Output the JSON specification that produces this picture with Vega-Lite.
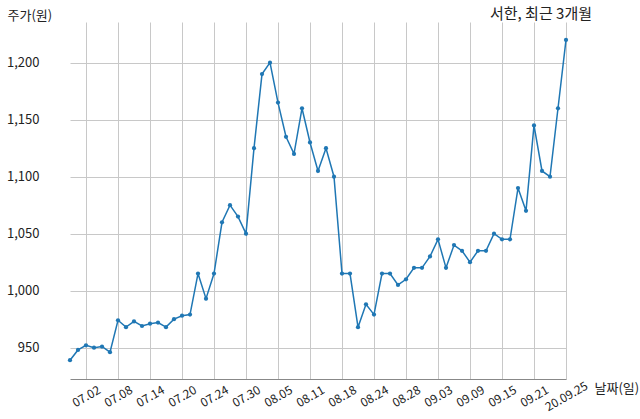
{
  "$schema": "https://vega.github.io/schema/vega-lite/v6.json",
  "description": "서한 주가, 최근 3개월",
  "autosize": {"type": "none"},
  "padding": {"left": 43, "top": 22, "right": 48, "bottom": 40},
  "width": 549,
  "height": 357,
  "background": "white",
  "title": {
    "text": "서한, 최근 3개월",
    "anchor": "end",
    "frame": "group",
    "fontSize": 15,
    "fontWeight": "normal",
    "font": "Noto Sans CJK KR",
    "color": "#222222",
    "offset": 3,
    "dy": 16
  },
  "data": {
    "values": [
      {"date": "2020-06-30", "price": 939},
      {"date": "2020-07-01", "price": 948},
      {"date": "2020-07-02", "price": 952},
      {"date": "2020-07-03", "price": 950},
      {"date": "2020-07-06", "price": 951},
      {"date": "2020-07-07", "price": 946},
      {"date": "2020-07-08", "price": 974},
      {"date": "2020-07-09", "price": 968},
      {"date": "2020-07-10", "price": 973},
      {"date": "2020-07-13", "price": 969},
      {"date": "2020-07-14", "price": 971},
      {"date": "2020-07-15", "price": 972},
      {"date": "2020-07-16", "price": 968},
      {"date": "2020-07-17", "price": 975},
      {"date": "2020-07-20", "price": 978},
      {"date": "2020-07-21", "price": 979},
      {"date": "2020-07-22", "price": 1015},
      {"date": "2020-07-23", "price": 993},
      {"date": "2020-07-24", "price": 1015},
      {"date": "2020-07-27", "price": 1060},
      {"date": "2020-07-28", "price": 1075},
      {"date": "2020-07-29", "price": 1065},
      {"date": "2020-07-30", "price": 1050},
      {"date": "2020-07-31", "price": 1125},
      {"date": "2020-08-03", "price": 1190},
      {"date": "2020-08-04", "price": 1200},
      {"date": "2020-08-05", "price": 1165},
      {"date": "2020-08-06", "price": 1135},
      {"date": "2020-08-07", "price": 1120},
      {"date": "2020-08-10", "price": 1160},
      {"date": "2020-08-11", "price": 1130},
      {"date": "2020-08-12", "price": 1105},
      {"date": "2020-08-13", "price": 1125},
      {"date": "2020-08-14", "price": 1100},
      {"date": "2020-08-18", "price": 1015},
      {"date": "2020-08-19", "price": 1015},
      {"date": "2020-08-20", "price": 968},
      {"date": "2020-08-21", "price": 988},
      {"date": "2020-08-24", "price": 979},
      {"date": "2020-08-25", "price": 1015},
      {"date": "2020-08-26", "price": 1015},
      {"date": "2020-08-27", "price": 1005},
      {"date": "2020-08-28", "price": 1010},
      {"date": "2020-08-31", "price": 1020},
      {"date": "2020-09-01", "price": 1020},
      {"date": "2020-09-02", "price": 1030},
      {"date": "2020-09-03", "price": 1045},
      {"date": "2020-09-04", "price": 1020},
      {"date": "2020-09-07", "price": 1040},
      {"date": "2020-09-08", "price": 1035},
      {"date": "2020-09-09", "price": 1025},
      {"date": "2020-09-10", "price": 1035},
      {"date": "2020-09-11", "price": 1035},
      {"date": "2020-09-14", "price": 1050},
      {"date": "2020-09-15", "price": 1045},
      {"date": "2020-09-16", "price": 1045},
      {"date": "2020-09-17", "price": 1090},
      {"date": "2020-09-18", "price": 1070},
      {"date": "2020-09-21", "price": 1145},
      {"date": "2020-09-22", "price": 1105},
      {"date": "2020-09-23", "price": 1100},
      {"date": "2020-09-24", "price": 1160},
      {"date": "2020-09-25", "price": 1220}
    ]
  },
  "mark": {
    "type": "line",
    "color": "#1f77b4",
    "strokeWidth": 1.5,
    "point": {"filled": true, "size": 18, "color": "#1f77b4"}
  },
  "encoding": {
    "x": {
      "field": "date",
      "type": "ordinal",
      "sort": null,
      "scale": {"type": "point", "padding": 0, "range": [27, 523]},
      "axis": {
        "values": ["2020-07-02", "2020-07-08", "2020-07-14", "2020-07-20", "2020-07-24", "2020-07-30", "2020-08-05", "2020-08-11", "2020-08-18", "2020-08-24", "2020-08-28", "2020-09-03", "2020-09-09", "2020-09-15", "2020-09-21", "2020-09-25"],
        "labelExpr": "datum.value == '2020-09-25' ? '20.09.25' : substring(datum.value, 5, 7) + '.' + substring(datum.value, 8, 10)",
        "labelAngle": -30,
        "labelAlign": "center",
        "labelBaseline": "middle",
        "labelPadding": 17,
        "ticks": false,
        "grid": true,
        "title": "날짜(일)",
        "titleAngle": 0,
        "titleAlign": "left",
        "titleBaseline": "middle",
        "titleX": 551,
        "titleY": 9,
        "titleFontWeight": "normal",
        "titleFontSize": 13
      }
    },
    "y": {
      "field": "price",
      "type": "quantitative",
      "scale": {"domain": [922.5, 1235.7], "nice": false, "zero": false},
      "axis": {
        "values": [950, 1000, 1050, 1100, 1150, 1200],
        "format": ",d",
        "domain": false,
        "ticks": false,
        "labelPadding": 4,
        "labelFontSize": 13,
        "title": "주가(원)",
        "titleAngle": 0,
        "titleAlign": "left",
        "titleBaseline": "alphabetic",
        "titleX": -36,
        "titleY": -3,
        "titleFontWeight": "normal",
        "titleFontSize": 13
      }
    }
  },
  "config": {
    "font": "Noto Sans CJK KR",
    "view": {"stroke": null},
    "axis": {
      "labelFont": "Noto Sans CJK KR",
      "titleFont": "Noto Sans CJK KR",
      "labelFontSize": 12,
      "labelColor": "#222222",
      "titleColor": "#222222",
      "gridColor": "#c8c8c8",
      "gridWidth": 1,
      "domainColor": "#888888",
      "domainWidth": 1
    }
  }
}
